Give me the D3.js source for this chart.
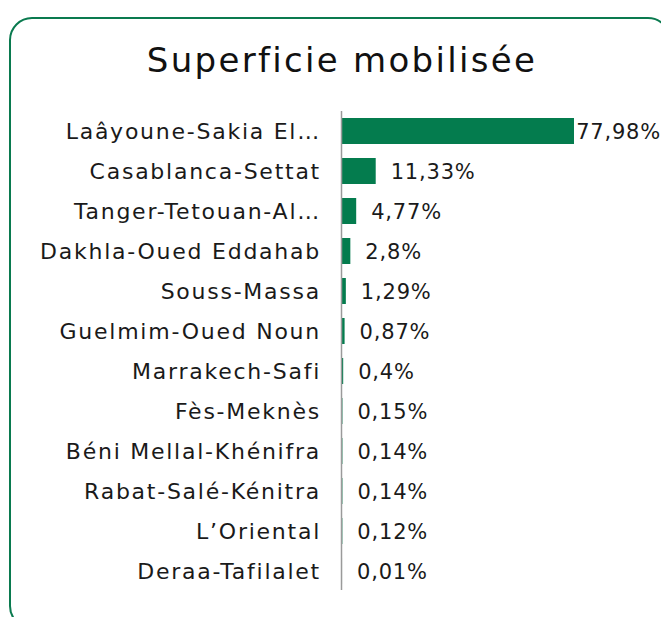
<!DOCTYPE html>
<html>
<head>
<meta charset="utf-8">
<style>
	body { margin: 0; background: white; }
	text { font-family: "DejaVu Sans", sans-serif; fill: #1a1a1a; }
	.frame { fill: none; stroke: #0a7a4f; stroke-width: 2; }
	.bar { fill: #047c4e; }
</style>
</head>
<body>
<svg width="661" height="617"></svg>

<script src="https://cdn.jsdelivr.net/npm/d3@7"></script>
<script>
const width = 661;
const height = 617;

const regions = ["Laâyoune-Sakia El…", "Casablanca-Settat", "Tanger-Tetouan-Al…", "Dakhla-Oued Eddahab",
	"Souss-Massa", "Guelmim-Oued Noun", "Marrakech-Safi", "Fès-Meknès",
	"Béni Mellal-Khénifra", "Rabat-Salé-Kénitra", "L’Oriental", "Deraa-Tafilalet"];
const shares = [77.98, 11.33, 4.77, 2.8, 1.29, 0.87, 0.4, 0.15, 0.14, 0.14, 0.12, 0.01];
const shareLabels = ["77,98%", "11,33%", "4,77%", "2,8%", "1,29%", "0,87%", "0,4%", "0,15%", "0,14%", "0,14%", "0,12%", "0,01%"];

const svg = d3.select("svg");

svg.append("rect")
	.attr("class", "frame")
	.attr("x", 10).attr("y", 18)
	.attr("width", 660).attr("height", 610)
	.attr("rx", 22).attr("ry", 22);

svg.append("text")
	.attr("x", 342).attr("y", 72)
	.attr("text-anchor", "middle")
	.style("font-size", "34px")
	.style("letter-spacing", "2.3px")
	.style("fill", "#111")
	.text("Superficie mobilisée");

const x = d3.scaleLinear().domain([0, 77.98]).range([342, 574]);
const y = d3.scaleBand().domain(regions).range([104, 598]).padding(0.35);

const data = regions.map((r, i) => ({ region: r, value: shares[i], label: shareLabels[i] }));

svg.selectAll(".bar")
	.data(data)
	.enter()
	.append("rect")
		.attr("class", "bar")
		.attr("x", x(0))
		.attr("y", d => y(d.region))
		.attr("width", d => x(d.value) - x(0))
		.attr("height", y.bandwidth());

svg.append("line")
	.attr("x1", 341.5).attr("x2", 341.5)
	.attr("y1", 111).attr("y2", 590)
	.attr("stroke", "#9a9a9a").attr("stroke-width", 1.5);

svg.selectAll(".cat")
	.data(data)
	.enter()
	.append("text")
		.attr("class", "cat")
		.attr("x", 321)
		.attr("y", d => y(d.region) + y.bandwidth() / 2)
		.attr("dy", "0.36em")
		.attr("text-anchor", "end")
		.style("font-size", "22px")
		.style("letter-spacing", "1.75px")
		.text(d => d.region);

svg.selectAll(".val")
	.data(data)
	.enter()
	.append("text")
		.attr("class", "val")
		.attr("y", d => y(d.region) + y.bandwidth() / 2)
		.attr("dy", "0.36em")
		.style("font-size", "21px")
		.style("letter-spacing", "0.8px")
		.text(d => d.label)
		.attr("x", function(d) {
			const w = this.getComputedTextLength();
			return Math.min(x(d.value) + 15, width - w);
		});
</script>
</body>
</html>
